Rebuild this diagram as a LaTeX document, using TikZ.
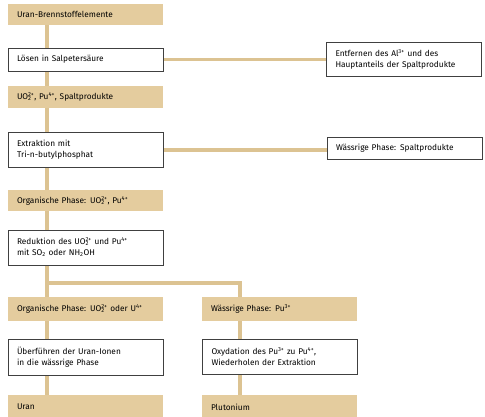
\documentclass[tikz,border=0pt]{standalone}
\usepackage{fontspec}
\setmainfont{Fira Sans}
\usetikzlibrary{backgrounds}
\definecolor{boxtan}{RGB}{228,204,158}
\definecolor{conntan}{RGB}{220,195,146}
\newcommand{\ionsb}[2]{\makebox[0pt][l]{\textsubscript{#1}}\textsuperscript{#2}}
\tikzset{
  basebox/.style={rectangle, minimum width=155pt, text width=137pt, inner xsep=9pt, inner ysep=0pt, align=left, font=\fontsize{8.3}{11}\selectfont},
  fillbox/.style={basebox, fill=boxtan},
  whitebox/.style={basebox, fill=white, draw=black!75, line width=0.5pt},
  connline/.style={draw=conntan, line width=3.2pt}
}
\begin{document}
\begin{tikzpicture}[x=1pt,y=-1pt]
\useasboundingbox (0,0) rectangle (485,416);
% left column
\node[fillbox, minimum height=21pt] (n1) at (85.5,14) {Uran-Brennstoffelemente};
\node[whitebox, minimum height=23pt] (n2) at (85.5,59.5) {Lösen in Salpetersäure};
\node[fillbox, minimum height=22pt] (n3) at (85.5,97) {UO\ionsb{2}{2+}, Pu\textsuperscript{4+}, Spaltprodukte};
\node[whitebox, minimum height=35pt] (n4) at (85.5,150) {Extraktion mit\\Tri-n-butylphosphat};
\node[fillbox, minimum height=21pt] (n5) at (85.5,200.5) {Organische Phase: UO\ionsb{2}{2+}, Pu\textsuperscript{4+}};
\node[whitebox, minimum height=35pt] (n6) at (85.5,247.5) {Reduktion des UO\ionsb{2}{2+} und Pu\textsuperscript{4+}\\mit SO\textsubscript{2} oder NH\textsubscript{2}OH};
\node[fillbox, minimum height=24pt] (n7) at (85.5,309) {Organische Phase: UO\ionsb{2}{2+} oder U\textsuperscript{4+}};
\node[whitebox, minimum height=36pt] (n8) at (85.5,357) {Überführen der Uran-Ionen\\in die wässrige Phase};
\node[fillbox, minimum height=24pt] (n9) at (85.5,407) {Uran};
% right column
\node[fillbox, minimum height=24pt] (r1) at (279.5,309) {Wässrige Phase: Pu\textsuperscript{3+}};
\node[whitebox, minimum height=35pt] (r2) at (280,356.5) {Oxydation des Pu\textsuperscript{3+} zu Pu\textsuperscript{4+},\\Wiederholen der Extraktion};
\node[fillbox, minimum height=24pt] (r3) at (279.5,407) {Plutonium};
% side boxes
\node[whitebox, minimum height=34pt] (s1) at (404,59.5) {Entfernen des Al\textsuperscript{3+} und des\\Hauptanteils der Spaltprodukte};
\node[whitebox, minimum height=22pt] (s2) at (404.5,148) {Wässrige Phase: Spaltprodukte};
% connectors
\coordinate (cl) at (47,0);
\coordinate (cr) at (240,0);
\coordinate (j) at (47,283);
\begin{scope}[on background layer]
\draw[connline] (n1.center -| cl) -- (n9.center -| cl);
\draw[connline] (j) -| (r1.center -| cr);
\draw[connline] (r1.center -| cr) -- (r3.center -| cr);
\draw[connline] (n2.east) -- (s1.west);
\draw[connline] (n4.east) -- (n4.east -| s2.west);
\end{scope}
\end{tikzpicture}
\end{document}
